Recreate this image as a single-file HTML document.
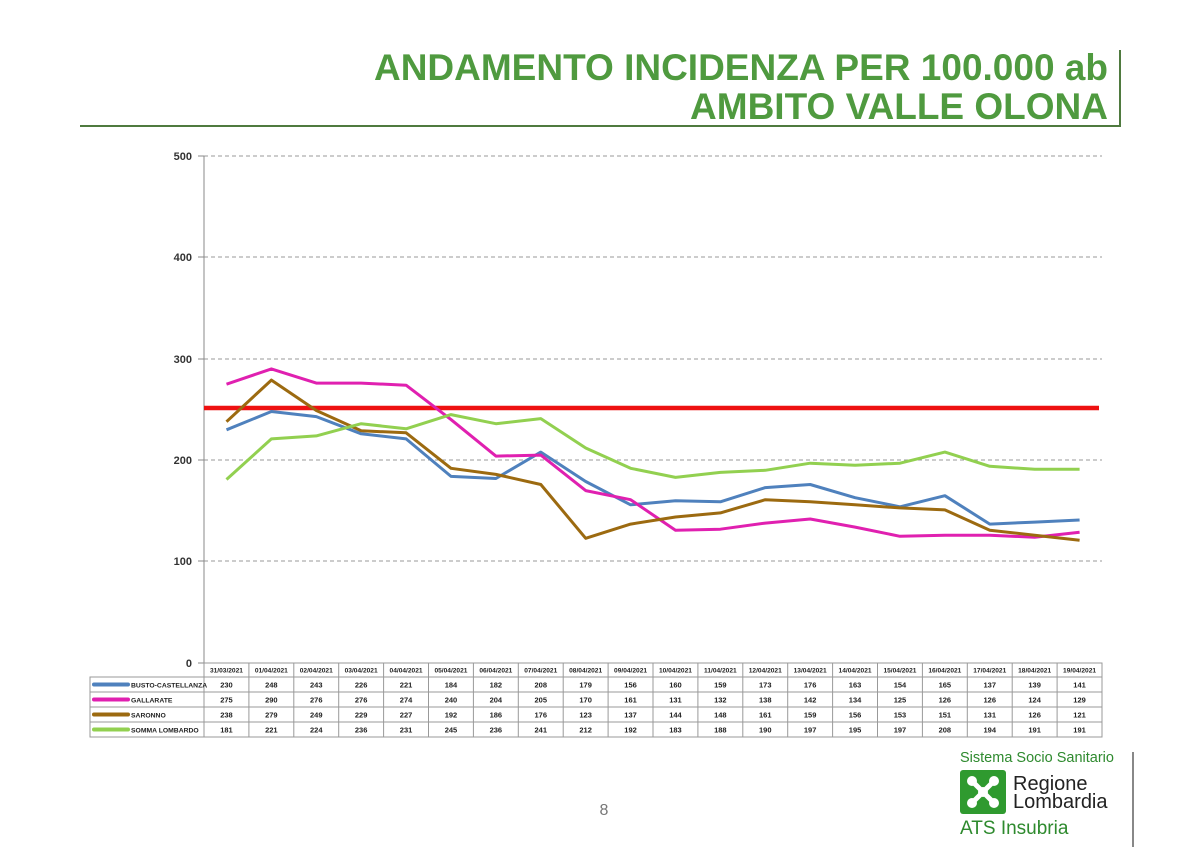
<!DOCTYPE html><html><head><meta charset="utf-8"><style>
body{margin:0;width:1200px;height:847px;background:#fff;overflow:hidden;font-family:"Liberation Sans",sans-serif}
</style></head><body>
<svg width="1200" height="847" xmlns="http://www.w3.org/2000/svg" font-family="Liberation Sans, sans-serif">
<text x="1108" y="80" text-anchor="end" font-size="37" font-weight="bold" fill="#4f9a3f">ANDAMENTO INCIDENZA PER 100.000 ab</text>
<text x="1108" y="119" text-anchor="end" font-size="37" font-weight="bold" fill="#4f9a3f">AMBITO VALLE OLONA</text>
<line x1="80" y1="126" x2="1121" y2="126" stroke="#4f7a3f" stroke-width="2"/>
<line x1="1120" y1="50" x2="1120" y2="126" stroke="#4f7a3f" stroke-width="2"/>
<g stroke="#999" stroke-dasharray="4,3" stroke-width="1">
<line x1="204" y1="156" x2="1102" y2="156"/><line x1="204" y1="257" x2="1102" y2="257"/><line x1="204" y1="359" x2="1102" y2="359"/><line x1="204" y1="460" x2="1102" y2="460"/><line x1="204" y1="561" x2="1102" y2="561"/>
</g>
<g stroke="#888" stroke-width="1"><line x1="204" y1="156" x2="204" y2="663"/>
<line x1="198" y1="156" x2="204" y2="156"/><line x1="198" y1="257" x2="204" y2="257"/><line x1="198" y1="359" x2="204" y2="359"/><line x1="198" y1="460" x2="204" y2="460"/><line x1="198" y1="561" x2="204" y2="561"/><line x1="198" y1="663" x2="204" y2="663"/></g>
<g font-size="11" fill="#333" text-anchor="end" font-weight="bold">
<text x="192" y="160">500</text><text x="192" y="261">400</text><text x="192" y="363">300</text><text x="192" y="464">200</text><text x="192" y="565">100</text><text x="192" y="667">0</text></g>
<line x1="204" y1="408" x2="1099" y2="408" stroke="#ee1111" stroke-width="4.5"/>
<g fill="none" stroke-width="3" stroke-linejoin="round">
<polyline stroke="#4f81bd" points="226.5,429.8 271.4,411.5 316.3,416.6 361.2,433.8 406.1,438.9 451,476.4 495.9,478.5 540.8,452.1 585.7,481.5 630.6,504.8 675.5,500.8 720.4,501.8 765.3,487.6 810.2,484.5 855.1,497.7 900,506.8 944.9,495.7 989.8,524.1 1034.7,522.1 1079.6,520"/>
<polyline stroke="#e020b0" points="226.5,384.2 271.4,368.9 316.3,383.1 361.2,383.1 406.1,385.2 451,419.6 495.9,456.1 540.8,455.1 585.7,490.6 630.6,499.7 675.5,530.2 720.4,529.2 765.3,523.1 810.2,519 855.1,527.1 900,536.3 944.9,535.2 989.8,535.2 1034.7,537.3 1079.6,532.2"/>
<polyline stroke="#9c6a10" points="226.5,421.7 271.4,380.1 316.3,410.5 361.2,430.8 406.1,432.8 451,468.3 495.9,474.4 540.8,484.5 585.7,538.3 630.6,524.1 675.5,517 720.4,512.9 765.3,499.7 810.2,501.8 855.1,504.8 900,507.9 944.9,509.9 989.8,530.2 1034.7,535.2 1079.6,540.3"/>
<polyline stroke="#92d050" points="226.5,479.5 271.4,438.9 316.3,435.9 361.2,423.7 406.1,428.8 451,414.6 495.9,423.7 540.8,418.6 585.7,448 630.6,468.3 675.5,477.4 720.4,472.4 765.3,470.3 810.2,463.2 855.1,465.3 900,463.2 944.9,452.1 989.8,466.3 1034.7,469.3 1079.6,469.3"/>
</g>
<g stroke="#999" stroke-width="1" fill="none">
<rect x="204" y="663" width="898" height="74"/><rect x="90" y="677" width="114" height="60"/>
<line x1="90" y1="677" x2="1102" y2="677"/><line x1="90" y1="692" x2="1102" y2="692"/><line x1="90" y1="707" x2="1102" y2="707"/><line x1="90" y1="722" x2="1102" y2="722"/>
</g>
<g id="cols" stroke="#999" stroke-width="1"></g>
<g stroke-width="4" stroke-linecap="round">
<line x1="94" y1="684.5" x2="128" y2="684.5" stroke="#4f81bd"/><line x1="94" y1="699.5" x2="128" y2="699.5" stroke="#e020b0"/><line x1="94" y1="714.5" x2="128" y2="714.5" stroke="#9c6a10"/><line x1="94" y1="729.5" x2="128" y2="729.5" stroke="#92d050"/></g>
<g font-size="6.8" font-weight="bold" fill="#222">
<text x="131" y="687.5">BUSTO-CASTELLANZA</text><text x="131" y="702.5">GALLARATE</text><text x="131" y="717.5">SARONNO</text><text x="131" y="732.5">SOMMA LOMBARDO</text></g>
<g id="tbl" font-size="7.5" font-weight="bold" fill="#222" text-anchor="middle"></g>
<text x="604" y="815" font-size="16" fill="#777" text-anchor="middle">8</text>
<text x="960" y="762" font-size="14.5" fill="#2e8a2e">Sistema Socio Sanitario</text>
<rect x="960" y="770" width="46" height="44" rx="3" fill="#2f9a2f"/>
<g fill="#fff"><circle cx="983" cy="792" r="5"/><circle cx="972" cy="781" r="5"/><circle cx="994" cy="781" r="5"/><circle cx="972" cy="803" r="5"/><circle cx="994" cy="803" r="5"/></g>
<g stroke="#fff" stroke-width="5"><line x1="972" y1="781" x2="994" y2="803"/><line x1="994" y1="781" x2="972" y2="803"/></g>
<text x="1013" y="790" font-size="20" fill="#222">Regione</text>
<text x="1013" y="808" font-size="20" fill="#222">Lombardia</text>
<text x="960" y="834" font-size="19" fill="#2e8a2e">ATS Insubria</text>
<line x1="1133" y1="752" x2="1133" y2="847" stroke="#888" stroke-width="2"/>
</svg>
<script>
var d=["31/03/2021","01/04/2021","02/04/2021","03/04/2021","04/04/2021","05/04/2021","06/04/2021","07/04/2021","08/04/2021","09/04/2021","10/04/2021","11/04/2021","12/04/2021","13/04/2021","14/04/2021","15/04/2021","16/04/2021","17/04/2021","18/04/2021","19/04/2021"];
var r=[[230,248,243,226,221,184,182,208,179,156,160,159,173,176,163,154,165,137,139,141],[275,290,276,276,274,240,204,205,170,161,131,132,138,142,134,125,126,126,124,129],[238,279,249,229,227,192,186,176,123,137,144,148,161,159,156,153,151,131,126,121],[181,221,224,236,231,245,236,241,212,192,183,188,190,197,195,197,208,194,191,191]];
var ns="http://www.w3.org/2000/svg",t=document.getElementById("tbl"),c=document.getElementById("cols");
function tx(x,y,s,fs){var e=document.createElementNS(ns,"text");e.setAttribute("x",x);e.setAttribute("y",y);if(fs)e.setAttribute("font-size",fs);e.textContent=s;t.appendChild(e);}
for(var i=0;i<20;i++){var x=204+44.9*i,cx=x+22.45;
if(i>0){var l=document.createElementNS(ns,"line");l.setAttribute("x1",x);l.setAttribute("x2",x);l.setAttribute("y1",663);l.setAttribute("y2",737);c.appendChild(l);}
tx(cx,672.5,d[i],6.6);for(var k=0;k<4;k++)tx(cx,687.5+15*k,r[k][i]);}
</script>
</body></html>
